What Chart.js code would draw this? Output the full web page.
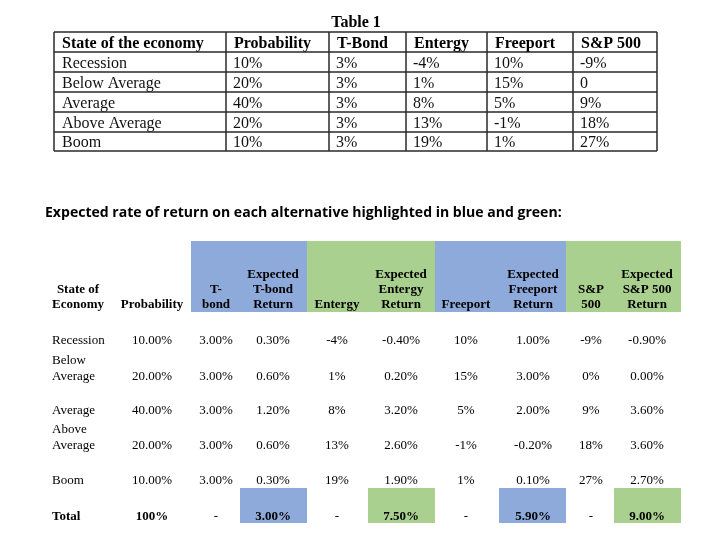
<!DOCTYPE html>
<html>
<head>
<meta charset="utf-8">
<script src="https://cdn.jsdelivr.net/npm/chart.js@4/dist/chart.umd.min.js"></script>
<style>
  html, body { margin: 0; padding: 0; background: #ffffff; }
  canvas { display: block; }
</style>
</head>
<body>
<canvas id="table-chart" width="723" height="548"></canvas>
<script>
// Table data
const states = ['Recession', 'Below Average', 'Average', 'Above Average', 'Boom'];
const probability = [10, 20, 40, 20, 10];
const tBond = [3, 3, 3, 3, 3];
const entergy = [-4, 1, 8, 13, 19];
const freeport = [10, 15, 5, -1, 1];
const sp500 = [-9, 0, 9, 18, 27];

// Expected returns (as printed in the second table)
const expTBond = [0.30, 0.60, 1.20, 0.60, 0.30];
const expEntergy = [-0.40, 0.20, 3.20, 2.60, 1.90];
const expFreeport = [1.00, 3.00, 2.00, -0.20, 0.10];
const expSP500 = [-0.90, 0.00, 3.60, 3.60, 2.70];
const totalProbability = 100;
const totals = [3.00, 7.50, 5.90, 9.00];

const table1Headers = ['State of the economy', 'Probability', 'T-Bond', 'Entergy', 'Freeport', 'S&P 500'];
const table2Headers = [
    ['State of', 'Economy'], ['Probability'], ['T-', 'bond'], ['Expected', 'T-bond', 'Return'],
    ['Entergy'], ['Expected', 'Entergy', 'Return'], ['Freeport'], ['Expected', 'Freeport', 'Return'],
    ['S&P', '500'], ['Expected', 'S&P 500', 'Return']
];
const table2RowLabels = [['Recession'], ['Below', 'Average'], ['Average'], ['Above', 'Average'], ['Boom']];

const BLUE = '#8eaadb';
const GREEN = '#a9d08e';
const SERIF = '"Liberation Serif", "Times New Roman", serif';

// Layout (canvas pixel units, mapped through the hidden linear scales)
const t1Cols = [54, 226, 329, 406, 487, 573, 657];
const t1Rows = [32, 52, 72, 92, 112, 132, 151];
const t2Centers = [78, 152, 216, 273, 337, 401, 466, 533, 591, 647];
const t2HeaderBands = [[191, 307, BLUE], [307, 435, GREEN], [435, 566, BLUE], [566, 681, GREEN]];
const t2TotalBoxes = [[240, 307, BLUE], [368, 435, GREEN], [499, 566, BLUE], [614, 681, GREEN]];
const t2RowBase = [344, 380, 414, 449, 484];

function pct(v, d) { return v.toFixed(d) + '%'; }

const tablePlugin = {
    id: 'tablePlugin',
    afterDraw(chart) {
        const ctx = chart.ctx;
        const sx = v => chart.scales.x.getPixelForValue(v);
        const sy = v => chart.scales.y.getPixelForValue(v);
        ctx.save();
        ctx.fillStyle = '#000';
        ctx.textBaseline = 'alphabetic';

        // ---- Table 1 ----
        ctx.font = 'bold 16px ' + SERIF;
        ctx.textAlign = 'center';
        ctx.fillText('Table 1', sx(356), sy(27));

        const t1Values = [
            probability.map(v => v + '%'),
            tBond.map(v => v + '%'),
            entergy.map(v => v + '%'),
            freeport.map(v => v + '%'),
            sp500.map(v => v === 0 ? '0' : v + '%')
        ];
        ctx.textAlign = 'left';
        ctx.font = 'bold 16px ' + SERIF;
        table1Headers.forEach((h, c) => ctx.fillText(h, sx(t1Cols[c] + 8), sy(t1Rows[1] - 4)));
        ctx.font = '16px ' + SERIF;
        ctx.fillStyle = '#111';
        states.forEach((s, r) => {
            const base = sy(t1Rows[r + 2] - 4);
            ctx.fillText(s, sx(t1Cols[0] + 8), base);
            t1Values.forEach((col, c) => ctx.fillText(col[r], sx(t1Cols[c + 1] + 7), base));
        });

        // grid lines
        ctx.strokeStyle = '#2a2a2a';
        ctx.lineWidth = 1.5;
        ctx.beginPath();
        t1Rows.forEach(r => { ctx.moveTo(sx(t1Cols[0]), sy(r)); ctx.lineTo(sx(t1Cols[6]), sy(r)); });
        t1Cols.forEach(c => { ctx.moveTo(sx(c), sy(t1Rows[0])); ctx.lineTo(sx(c), sy(t1Rows[6])); });
        ctx.stroke();

        // ---- Heading sentence ----
        ctx.fillStyle = '#000';
        ctx.textAlign = 'left';
        const heading = 'Expected rate of return on each alternative highlighted in blue and green:';
        let size = 15;
        ctx.font = 'bold ' + size + 'px "Open Sans", "Liberation Sans", sans-serif';
        size = size * 517 / ctx.measureText(heading).width;
        ctx.font = 'bold ' + size.toFixed(2) + 'px "Open Sans", "Liberation Sans", sans-serif';
        ctx.fillText(heading, sx(45), sy(217));

        // ---- Table 2 ----
        t2HeaderBands.forEach(([a, b, col]) => {
            ctx.fillStyle = col;
            ctx.fillRect(sx(a), sy(241), sx(b) - sx(a), sy(312) - sy(241));
        });
        t2TotalBoxes.forEach(([a, b, col]) => {
            ctx.fillStyle = col;
            ctx.fillRect(sx(a), sy(488), sx(b) - sx(a), sy(523) - sy(488));
        });

        ctx.fillStyle = '#000';
        ctx.textAlign = 'center';
        ctx.font = 'bold 13px ' + SERIF;
        table2Headers.forEach((lines, c) => {
            lines.forEach((ln, i) => {
                ctx.fillText(ln, sx(t2Centers[c]), sy(308 - (lines.length - 1 - i) * 15));
            });
        });

        const t2Values = [
            probability.map(v => pct(v, 2)),
            tBond.map(v => pct(v, 2)),
            expTBond.map(v => pct(v, 2)),
            entergy.map(v => v + '%'),
            expEntergy.map(v => pct(v, 2)),
            freeport.map(v => v + '%'),
            expFreeport.map(v => pct(v, 2)),
            sp500.map(v => v + '%'),
            expSP500.map(v => pct(v, 2))
        ];
        ctx.font = '13px ' + SERIF;
        states.forEach((s, r) => {
            const base = t2RowBase[r];
            ctx.textAlign = 'left';
            const lab = table2RowLabels[r];
            lab.forEach((ln, i) => ctx.fillText(ln, sx(52), sy(base - (lab.length - 1 - i) * 16)));
            ctx.textAlign = 'center';
            t2Values.forEach((col, c) => ctx.fillText(col[r], sx(t2Centers[c + 1]), sy(base)));
        });

        // total row
        ctx.font = 'bold 13px ' + SERIF;
        ctx.textAlign = 'left';
        ctx.fillText('Total', sx(52), sy(520));
        ctx.textAlign = 'center';
        const totalRow = [totalProbability + '%', '-', pct(totals[0], 2), '-', pct(totals[1], 2),
                          '-', pct(totals[2], 2), '-', pct(totals[3], 2)];
        totalRow.forEach((t, c) => {
            ctx.font = (t === '-' ? '' : 'bold ') + '13px ' + SERIF;
            ctx.fillText(t, sx(t2Centers[c + 1]), sy(520));
        });

        ctx.restore();
    }
};

const ctx = document.getElementById('table-chart').getContext('2d');
const tableChart = new Chart(ctx, {
    type: 'scatter',
    data: { datasets: [] },
    options: {
        responsive: false,
        animation: false,
        layout: { padding: 0 },
        plugins: { legend: { display: false }, tooltip: { enabled: false } },
        scales: {
            x: { type: 'linear', min: 0, max: 723, display: false },
            y: { type: 'linear', min: 0, max: 548, reverse: true, display: false }
        }
    },
    plugins: [tablePlugin]
});
</script>
</body>
</html>
